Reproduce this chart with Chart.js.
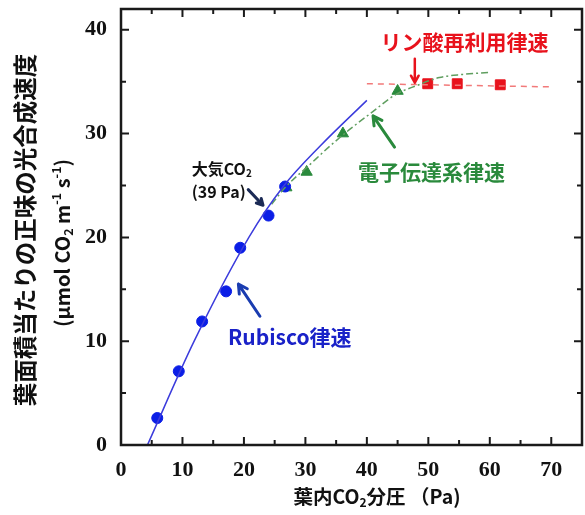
<!DOCTYPE html>
<html>
<head>
<meta charset="utf-8">
<script src="https://cdn.jsdelivr.net/npm/chart.js@4.4.0/dist/chart.umd.min.js"></script>
<style>
  html, body { margin: 0; padding: 0; background: #fff; }
</style>
</head>
<body>
<canvas id="myChart" width="585" height="515"></canvas>
<script>
// measured points (Pa, umol m-2 s-1)
const rubiscoX = [5.9, 9.4, 13.2, 17.1, 19.4, 24.0, 26.7];
const rubiscoY = [2.6, 7.1, 11.9, 14.8, 19.0, 22.1, 24.9];
const electronX = [26.9, 30.2, 36.1, 45.0];
const electronY = [24.8, 26.3, 30.0, 34.1];
const phosX = [49.9, 54.7, 61.7];
const phosY = [34.8, 34.8, 34.7];

// fitted curves
const rubiscoFitX = [4.3, 11.9, 20.8, 26.4, 32.4, 40.0];
const rubiscoFitY = [0, 10, 20, 24.9, 28.8, 33.2];
const electronFitX = [24.5, 26.7, 30.7, 34.0, 37.2, 40.5, 44.8, 48.0, 51.8, 55.6, 60.0];
const electronFitY = [23.2, 24.8, 27.0, 28.8, 30.4, 31.9, 33.8, 34.6, 35.4, 35.7, 35.9];
const phosFitX = [40, 70];
const phosFitY = [34.8, 34.5];

const xTicks = [0, 10, 20, 30, 40, 50, 60, 70];
const yTicks = [0, 10, 20, 30, 40];

const BLUE = "#0b1ee6";
const GREEN = "#2a8a3c";
const RED = "#e8121c";
const JP = '"Noto Sans CJK JP", "Noto Sans", sans-serif';

function pts(xs, ys) {
    return xs.map((x, i) => ({ x: x, y: ys[i] }));
}

// draw text with sub / superscript pieces
function richText(ctx, parts, x, y, size, align) {
    let total = 0;
    parts.forEach(p => {
        ctx.font = "bold " + (p.s ? size * 0.62 : size) + "px " + JP;
        p.w = ctx.measureText(p.t).width;
        total += p.w;
    });
    let cx = align === "center" ? x - total / 2 : x;
    ctx.textAlign = "left";
    ctx.textBaseline = "middle";
    parts.forEach(p => {
        ctx.font = "bold " + (p.s ? size * 0.62 : size) + "px " + JP;
        let dy = 0;
        if (p.s === "sub") dy = size * 0.3;
        if (p.s === "sup") dy = -size * 0.3;
        ctx.fillText(p.t, cx, y + dy);
        cx += p.w;
    });
}

function arrow(ctx, x1, y1, x2, y2, color, width, head) {
    const a = Math.atan2(y2 - y1, x2 - x1);
    ctx.save();
    ctx.strokeStyle = color;
    ctx.lineWidth = width;
    ctx.lineCap = "round";
    ctx.lineJoin = "round";
    ctx.beginPath();
    ctx.moveTo(x1, y1);
    ctx.lineTo(x2, y2);
    ctx.moveTo(x2 - head * Math.cos(a - 0.5), y2 - head * Math.sin(a - 0.5));
    ctx.lineTo(x2, y2);
    ctx.lineTo(x2 - head * Math.cos(a + 0.5), y2 - head * Math.sin(a + 0.5));
    ctx.stroke();
    ctx.restore();
}

const decorations = {
    id: "decorations",
    afterDraw(chart) {
        const ctx = chart.ctx;
        const xs = chart.scales.x, ys = chart.scales.y;
        const a = chart.chartArea;
        const px = v => xs.getPixelForValue(v);
        const py = v => ys.getPixelForValue(v);
        ctx.save();

        // inner tick marks on all four sides
        ctx.strokeStyle = "#1a1a1a";
        ctx.lineWidth = 2;
        ctx.beginPath();
        for (let v = 0; v <= 75; v += 5) {
            const len = v % 10 === 0 ? 8 : 5;
            const x = px(v);
            ctx.moveTo(x, a.bottom); ctx.lineTo(x, a.bottom - len);
            ctx.moveTo(x, a.top); ctx.lineTo(x, a.top + len);
        }
        for (let v = 0; v <= 40; v += 5) {
            const len = v % 10 === 0 ? 8 : 5;
            const y = py(v);
            ctx.moveTo(a.left, y); ctx.lineTo(a.left + len, y);
            ctx.moveTo(a.right, y); ctx.lineTo(a.right - len, y);
        }
        ctx.stroke();

        // frame
        ctx.lineWidth = 2.5;
        ctx.strokeRect(a.left, a.top, a.right - a.left, a.bottom - a.top);

        // axis titles
        ctx.fillStyle = "#111";
        richText(ctx, [{ t: "葉内CO" }, { t: "2", s: "sub" }, { t: "分圧 （Pa)" }],
            377, 497, 19.5, "center");

        ctx.save();
        ctx.translate(25, 230);
        ctx.rotate(-Math.PI / 2);
        richText(ctx, [{ t: "葉面積当たりの正味の光合成速度" }], 0, 0, 23.5, "center");
        ctx.restore();

        ctx.save();
        ctx.translate(62, 243);
        ctx.rotate(-Math.PI / 2);
        richText(ctx, [{ t: "(μmol CO" }, { t: "2", s: "sub" }, { t: " m" }, { t: "-1", s: "sup" },
            { t: " s" }, { t: "-1", s: "sup" }, { t: ")" }], 0, 0, 20, "center");
        ctx.restore();

        // annotations
        ctx.fillStyle = RED;
        richText(ctx, [{ t: "リン酸再利用律速" }], px(55.9), py(38.8), 21, "center");
        arrow(ctx, px(47.8), py(37.2), px(47.8), py(34.9), RED, 2.5, 8);

        ctx.fillStyle = GREEN;
        richText(ctx, [{ t: "電子伝達系律速" }], px(50.5), py(26.3), 21, "center");
        arrow(ctx, px(44.5), py(28.7), px(41.0), py(31.7), GREEN, 3, 10);

        ctx.fillStyle = "#111";
        richText(ctx, [{ t: "大気CO" }, { t: "2", s: "sub" }], px(11.5), py(26.6), 16, "left");
        richText(ctx, [{ t: "(39 Pa)" }], px(11.5), py(24.4), 16, "left");
        arrow(ctx, px(20.7), py(24.6), px(23.1), py(23.1), "#1b2a55", 3, 7);

        ctx.fillStyle = "#1a22c8";
        richText(ctx, [{ t: "Rubisco律速" }], px(17.4), py(10.4), 21, "left");
        arrow(ctx, px(22.6), py(12.4), px(19.1), py(15.5), "#1a3cb0", 3, 10);

        ctx.restore();
    }
};

new Chart("myChart", {
    type: "scatter",
    data: {
        datasets: [
            {
                data: pts(rubiscoFitX, rubiscoFitY),
                showLine: true, borderColor: "#3b3bdc", borderWidth: 1.5,
                pointRadius: 0, cubicInterpolationMode: "monotone"
            },
            {
                data: pts(electronFitX, electronFitY),
                showLine: true, borderColor: "#5f9e5f", borderWidth: 1.5,
                borderDash: [7, 3, 2, 3], pointRadius: 0, cubicInterpolationMode: "monotone"
            },
            {
                data: pts(phosFitX, phosFitY),
                showLine: true, borderColor: "#f27a7a", borderWidth: 1.5,
                borderDash: [6, 5], pointRadius: 0
            },
            {
                data: pts(rubiscoX, rubiscoY),
                pointStyle: "circle", pointRadius: 5.5,
                backgroundColor: BLUE, borderColor: BLUE
            },
            {
                data: pts(electronX, electronY),
                pointStyle: "triangle", pointRadius: 6.5,
                backgroundColor: GREEN, borderColor: GREEN
            },
            {
                data: pts(phosX, phosY),
                pointStyle: "rect", pointRadius: 7,
                backgroundColor: RED, borderColor: RED
            }
        ]
    },
    options: {
        responsive: false,
        animation: false,
        layout: { autoPadding: false, padding: { top: 9, right: 3, left: 0, bottom: 0 } },
        plugins: { legend: { display: false }, tooltip: { enabled: false } },
        scales: {
            x: {
                type: "linear", min: 0, max: 75,
                afterFit: s => { s.height = 70; s.paddingLeft = 0; s.paddingRight = 0; },
                afterBuildTicks: s => { s.ticks = xTicks.map(v => ({ value: v })); },
                grid: { display: false }, border: { display: false },
                ticks: {
                    color: "#111", padding: 4, maxRotation: 0,
                    font: { family: '"Liberation Serif", serif', size: 22, weight: "bold" }
                }
            },
            y: {
                type: "linear", min: 0, max: 42,
                afterFit: s => { s.width = 121; s.paddingTop = 0; s.paddingBottom = 0; },
                afterBuildTicks: s => { s.ticks = yTicks.map(v => ({ value: v })); },
                grid: { display: false }, border: { display: false },
                ticks: {
                    color: "#111", padding: 6,
                    font: { family: '"Liberation Serif", serif', size: 22, weight: "bold" }
                }
            }
        }
    },
    plugins: [decorations]
});
</script>
</body>
</html>
